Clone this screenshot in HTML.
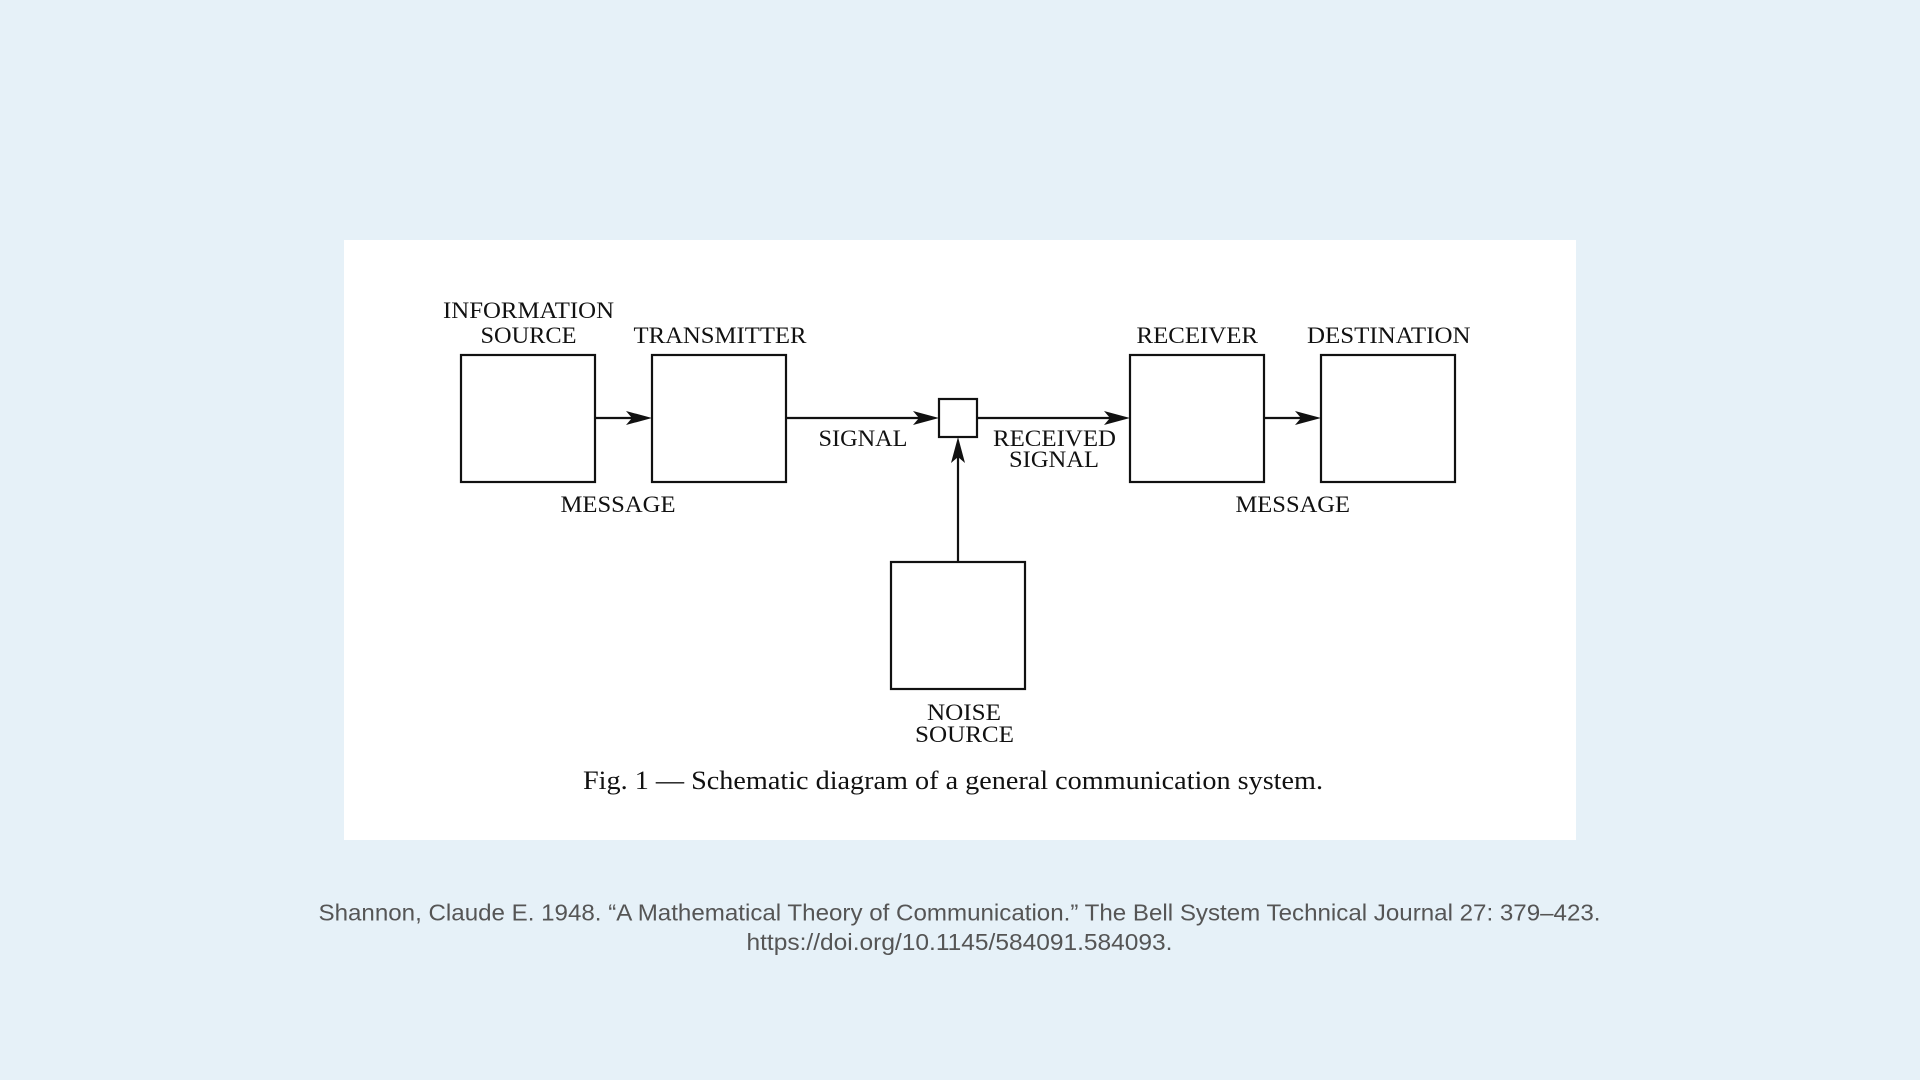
<!DOCTYPE html>
<html>
<head>
<meta charset="utf-8">
<style>
  html, body { margin:0; padding:0; width:1920px; height:1080px; overflow:hidden; background:#e6f1f8; }
  svg { display:block; }
  .lab { font-family: "Liberation Serif", "Times New Roman", serif; font-size:23.5px; fill:#111; }
  .cap { font-family: "Liberation Serif", "Times New Roman", serif; font-size:26px; fill:#111; }
  .cit { font-family: "Liberation Sans", Arial, sans-serif; font-size:23px; fill:#555; }
</style>
</head>
<body>
<svg width="1920" height="1080" viewBox="0 0 1920 1080" xmlns="http://www.w3.org/2000/svg">
  <rect x="0" y="0" width="1920" height="1080" fill="#e6f1f8"/>
  <rect x="344" y="240" width="1232" height="600" fill="#ffffff"/>

  <g fill="none" stroke="#111" stroke-width="2.2">
    <rect x="461" y="355" width="134" height="127"/>
    <rect x="652" y="355" width="134" height="127"/>
    <rect x="1130" y="355" width="134" height="127"/>
    <rect x="1321" y="355" width="134" height="127"/>
    <rect x="891" y="562" width="134" height="127"/>
    <rect x="939" y="399" width="38" height="38"/>
    <line x1="595" y1="418" x2="638" y2="418"/>
    <line x1="786" y1="418" x2="926" y2="418"/>
    <line x1="977" y1="418" x2="1116" y2="418"/>
    <line x1="1264" y1="418" x2="1308" y2="418"/>
    <line x1="958" y1="562" x2="958" y2="450"/>
  </g>
  <g fill="#111" stroke="none">
    <polygon points="652,418 626,411 632,418 626,425"/>
    <polygon points="939,418 913,411 919,418 913,425"/>
    <polygon points="1130,418 1104,411 1110,418 1104,425"/>
    <polygon points="1321,418 1295,411 1301,418 1295,425"/>
    <polygon points="958,437 951,463 958,457 965,463"/>
  </g>

  <g class="lab">
    <text x="443" y="318" textLength="171" lengthAdjust="spacingAndGlyphs">INFORMATION</text>
    <text x="480.5" y="343" textLength="96" lengthAdjust="spacingAndGlyphs">SOURCE</text>
    <text x="633.5" y="343" textLength="173" lengthAdjust="spacingAndGlyphs">TRANSMITTER</text>
    <text x="1136.5" y="343" textLength="121.5" lengthAdjust="spacingAndGlyphs">RECEIVER</text>
    <text x="1307" y="343" textLength="163.5" lengthAdjust="spacingAndGlyphs">DESTINATION</text>
    <text x="818.5" y="446" textLength="89" lengthAdjust="spacingAndGlyphs">SIGNAL</text>
    <text x="993" y="446" textLength="123" lengthAdjust="spacingAndGlyphs">RECEIVED</text>
    <text x="1009" y="467" textLength="90" lengthAdjust="spacingAndGlyphs">SIGNAL</text>
    <text x="560.5" y="512" textLength="115" lengthAdjust="spacingAndGlyphs">MESSAGE</text>
    <text x="1235.5" y="512" textLength="114.5" lengthAdjust="spacingAndGlyphs">MESSAGE</text>
    <text x="927" y="720" textLength="74" lengthAdjust="spacingAndGlyphs">NOISE</text>
    <text x="915" y="742" textLength="99" lengthAdjust="spacingAndGlyphs">SOURCE</text>
  </g>

  <text class="cap" x="583" y="789" textLength="740" lengthAdjust="spacingAndGlyphs">Fig. 1 — Schematic diagram of a general communication system.</text>

  <text class="cit" x="318.5" y="920.5" textLength="1282" lengthAdjust="spacingAndGlyphs">Shannon, Claude E. 1948. “A Mathematical Theory of Communication.” The Bell System Technical Journal 27: 379–423.</text>
  <text class="cit" x="746.5" y="950" textLength="426" lengthAdjust="spacingAndGlyphs">https://doi.org/10.1145/584091.584093.</text>
</svg>
</body>
</html>
